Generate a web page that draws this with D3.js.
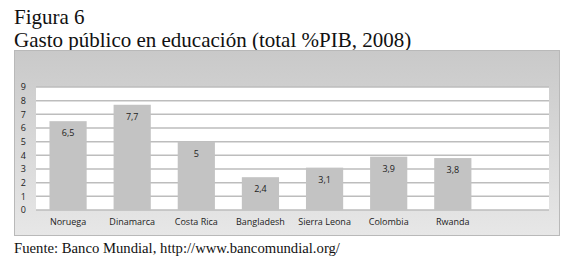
<!DOCTYPE html>
<html>
<head>
<meta charset="utf-8">
<script src="https://cdn.jsdelivr.net/npm/d3@7"></script>
<style>
body { margin: 0; background: #fff; }
.tick text { font-family: "Open Sans", sans-serif; font-size: 9px; fill: #222; }
</style>
</head>
<body>
<div id="chart"></div>
<script>
/* datos: gasto publico en educacion (% PIB, 2008) */
var paises = ["Noruega", "Dinamarca", "Costa Rica", "Bangladesh", "Sierra Leona", "Colombia", "Rwanda"];
var gasto = [6.5, 7.7, 5, 2.4, 3.1, 3.9, 3.8];
var yTicks = [0, 1, 2, 3, 4, 5, 6, 7, 8, 9];
var titulo1 = "Figura 6";
var titulo2 = "Gasto público en educación (total %PIB, 2008)";
var fuente = "Fuente: Banco Mundial, http://www.bancomundial.org/";

var W = 580, H = 262;
var frame = {x: 14, y: 50, w: 546, h: 186};
var margin = {top: 87, left: 36},
	width = 549 - 36,
	height = 210 - 87;

var svg = d3.select("#chart")
	.append("svg")
	.attr("width", W)
	.attr("height", H);

var defs = svg.append("defs");
var grad = defs.append("linearGradient")
	.attr("id", "fondo")
	.attr("x1", 0).attr("y1", 0).attr("x2", 0).attr("y2", 1);
grad.append("stop").attr("offset", "0%").attr("stop-color", "#c9c9c9");
grad.append("stop").attr("offset", "100%").attr("stop-color", "#e7e7e7");

/* titulos */
svg.append("text")
	.attr("x", 14).attr("y", 24)
	.style("font-family", "'Liberation Serif', serif")
	.style("font-size", "21px")
	.style("fill", "#111")
	.text(titulo1);
svg.append("text")
	.attr("x", 14).attr("y", 47)
	.style("font-family", "'Liberation Serif', serif")
	.style("font-size", "21px")
	.style("fill", "#111")
	.text(titulo2);

/* marco gris */
svg.append("rect")
	.attr("x", frame.x + 0.5).attr("y", frame.y + 0.5)
	.attr("width", frame.w - 1).attr("height", frame.h - 1)
	.style("fill", "url(#fondo)")
	.style("stroke", "#b9b9b9")
	.style("stroke-width", 1);

var g = svg.append("g")
	.attr("transform", "translate(" + margin.left + "," + margin.top + ")");

g.append("rect")
	.attr("width", width).attr("height", height)
	.style("fill", "#fff");

/* 8 bandas, la ultima queda vacia */
var x = d3.scaleBand()
	.domain(paises)
	.range([0, width * 7 / 8])
	.paddingInner(0.42)
	.paddingOuter(0.21);
var y = d3.scaleLinear().domain([0, 9]).range([height, 0]);

g.selectAll(".grid")
	.data(yTicks)
	.enter()
	.append("line")
	.attr("class", "grid")
	.attr("x1", 0).attr("x2", width)
	.attr("y1", function(d) { return y(d); })
	.attr("y2", function(d) { return y(d); })
	.style("stroke", "#bdbdbd")
	.style("stroke-width", 1.5);

var yAxis = d3.axisLeft(y).tickValues(yTicks).tickSize(0).tickPadding(10);
g.append("g")
	.attr("class", "axis")
	.call(yAxis)
	.call(function(s) { s.select(".domain").remove(); });

var xAxis = d3.axisBottom(x).tickSize(0).tickPadding(9);
g.append("g")
	.attr("class", "axis")
	.attr("transform", "translate(0," + height + ")")
	.call(xAxis)
	.call(function(s) { s.select(".domain").remove(); });

g.selectAll(".bar")
	.data(gasto)
	.enter()
	.append("rect")
	.attr("class", "bar")
	.style("fill", "#c3c3c3")
	.attr("x", function(d, i) { return x(paises[i]); })
	.attr("y", function(d) { return y(d); })
	.attr("width", x.bandwidth())
	.attr("height", function(d) { return height - y(d); });

g.selectAll(".valor")
	.data(gasto)
	.enter()
	.append("text")
	.attr("class", "valor")
	.attr("x", function(d, i) { return x(paises[i]) + x.bandwidth() / 2; })
	.attr("y", function(d) { return y(d) + 15; })
	.style("text-anchor", "middle")
	.style("font-family", "'Open Sans', sans-serif")
	.style("font-size", "9px")
	.style("fill", "#222")
	.text(function(d) { return String(d).replace(".", ","); });

svg.append("text")
	.attr("x", 14).attr("y", 253)
	.style("font-family", "'Liberation Serif', serif")
	.style("font-size", "14.7px")
	.style("fill", "#111")
	.text(fuente);
</script>
</body>
</html>
